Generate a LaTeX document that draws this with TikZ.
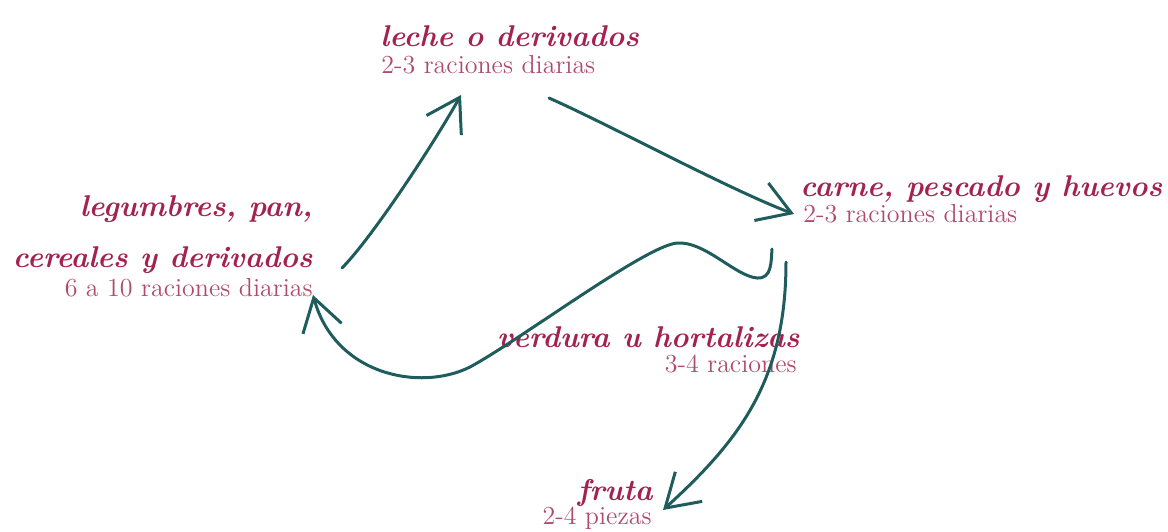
\documentclass[tikz,border=0pt]{standalone}
\usepackage{tikz}
\usetikzlibrary{arrows.meta}
\definecolor{wine}{HTML}{A3224F}
\definecolor{winelight}{HTML}{B04A6C}
\definecolor{petrol}{HTML}{1F5C5C}
\tikzset{
  >={Straight Barb[length=16pt,width=20pt]},
  % grupos
  grupo/.style={text=wine,inner sep=0pt,
                font=\fontsize{15}{25.5}\selectfont\bfseries\itshape},
  racion/.style={text=winelight,inner sep=0pt,font=\fontsize{13}{15}\selectfont},
  % flechas
  flujo/.style={->,draw=petrol,line width=1.5pt,line cap=round},
}
\begin{document}
\begin{tikzpicture}[x=0.5pt,y=-0.5pt]
\useasboundingbox (0,0) rectangle (1168,531);
  \node[grupo,anchor=base west] (leche) at (380,46) {leche o derivados};
  \node[racion,anchor=base west] (lecheR) at (381,73) {2-3 raciones diarias};
  \node[grupo,anchor=south east,align=right] (legum) at (313,274)
       {legumbres, pan,\\cereales y derivados};
  \node[racion,anchor=base east] (legumR) at (313,296) {6 a 10 raciones diarias};
  \node[grupo,anchor=base west] (carne) at (800,196) {carne, pescado y huevos};
  \node[racion,anchor=base west] (carneR) at (803,222) {2-3 raciones diarias};
  \node[grupo,anchor=base east] (verd) at (800,347) {verdura u hortalizas};
  \node[racion,anchor=base east] (verdR) at (797,372) {3-4 raciones};
  \node[grupo,anchor=base east] (fruta) at (653,500) {fruta};
  \node[racion,anchor=base east] (frutaR) at (652,524) {2-4 piezas};
  % extremos de las flechas
  \coordinate (aIni) at (342,268); \coordinate (aFin) at (461,95);
  \coordinate (bIni) at (549,98);  \coordinate (bFin) at (794,214);
  \coordinate (cIni) at (772,249); \coordinate (cFin) at (313,295);
  \coordinate (dIni) at (786,262); \coordinate (dFin) at (663,510);
  \draw[flujo] (aIni) .. controls (370,240) and (430,150) .. (aFin);
  \draw[flujo] (bIni) .. controls (610,125) and (730,190) .. (bFin);
  \draw[flujo] (cIni) .. controls (771,262) and (772,279) .. (757,278)
       .. controls (735,276) and (705,241) .. (677,243)
       .. controls (645,246) and (520,340) .. (470,367)
       .. controls (420,392) and (335,375) .. (cFin);
  \draw[flujo] (dIni) .. controls (786,380) and (740,440) .. (dFin);
\end{tikzpicture}
\end{document}
